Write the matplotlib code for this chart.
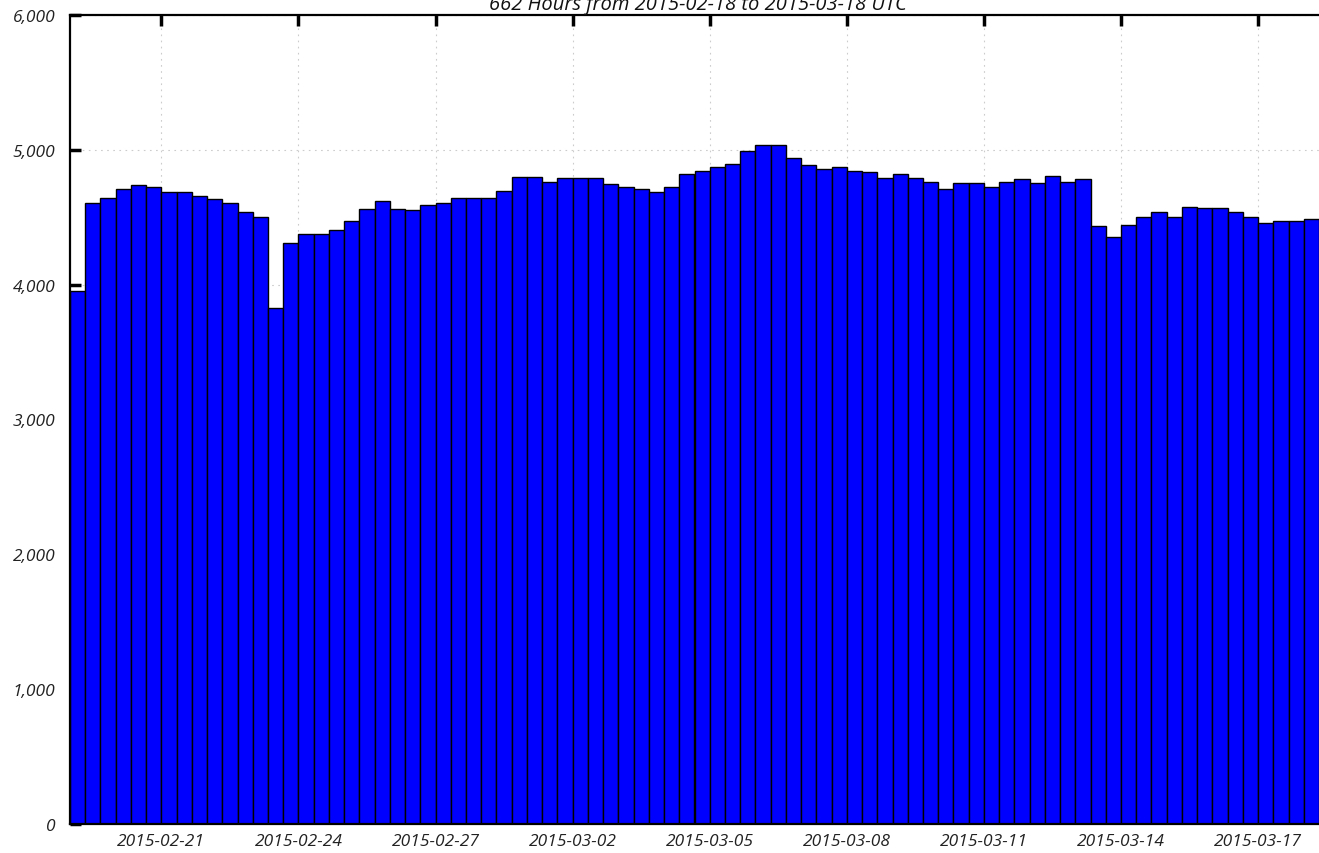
import matplotlib
matplotlib.use("Agg")
import matplotlib.pyplot as plt
import matplotlib.dates as mdates
import matplotlib.ticker as mticker
import pandas as pd
import numpy as np

# ---- data ----
title_text = "662 Hours from 2015-02-18 to 2015-03-18 UTC"
bin_start = "2015-02-19 00:00"
bin_hours = 8
counts = [
    3950, 4606, 4645, 4710, 4738, 4724, 4685, 4685, 4660, 4633,
    4606, 4539, 4499, 3827, 4311, 4378, 4378, 4405, 4472, 4564,
    4618, 4564, 4554, 4591, 4606, 4645, 4645, 4645, 4698, 4802,
    4802, 4765, 4790, 4790, 4790, 4747, 4725, 4710, 4687, 4725,
    4820, 4845, 4872, 4898, 4991, 5033, 5033, 4940, 4884, 4860,
    4872, 4845, 4832, 4793, 4820, 4793, 4765, 4710, 4754, 4754,
    4725, 4765, 4780, 4754, 4806, 4765, 4780, 4432, 4350, 4445,
    4499, 4539, 4499, 4578, 4565, 4565, 4539, 4499, 4460, 4472,
    4472, 4486,
]
x_tick_dates = ["2015-02-21", "2015-02-24", "2015-02-27", "2015-03-02", "2015-03-05",
                "2015-03-08", "2015-03-11", "2015-03-14", "2015-03-17"]
y_ticks = [0, 1000, 2000, 3000, 4000, 5000, 6000]

plt.rcParams['font.family'] = ['Open Sans', 'DejaVu Sans']

starts = pd.date_range(bin_start, periods=len(counts), freq=f"{bin_hours}h")
xs = mdates.date2num(starts.to_pydatetime())
width = bin_hours / 24.0

fig = plt.figure(figsize=(13.19, 8.54), dpi=100)
ax = fig.add_axes([70/1319, 29/854, 1 - 70/1319, (825-16)/854])

ax.bar(xs, counts, width=width, align='edge', color='#0000ff',
       edgecolor='black', linewidth=1.0, zorder=2)

ax.set_xlim(xs[0], xs[-1] + width)
ax.set_ylim(0, 6000)

tick_nums = mdates.date2num(pd.to_datetime(x_tick_dates).to_pydatetime())
ax.set_xticks(tick_nums)
ax.set_xticklabels(x_tick_dates)
ax.set_yticks(y_ticks)
ax.yaxis.set_major_formatter(mticker.FuncFormatter(lambda v, p: f"{int(v):,}"))

ax.tick_params(axis='x', direction='in', length=8, width=2.5, top=True, bottom=True,
               labelsize=12.5, pad=6.5, colors='black', labelcolor='#222222')
ax.tick_params(axis='y', direction='in', length=8, width=2.5, left=True, right=False,
               labelsize=12.5, pad=10.5, colors='black', labelcolor='#222222')
for lab in ax.get_xticklabels() + ax.get_yticklabels():
    lab.set_fontstyle('italic')

ax.grid(True, color='#cccccc', linestyle=(0, (1.5, 4)), linewidth=0.8, zorder=0)
ax.set_axisbelow(True)

for s in ['left', 'bottom', 'top']:
    ax.spines[s].set_linewidth(1.6)
ax.spines['right'].set_visible(False)

fig.text(698/1319, (854-10)/854, title_text, fontsize=14.5, fontstyle='italic',
         ha='center', va='baseline', color='#111111')

fig.savefig("out.png", dpi=100)
